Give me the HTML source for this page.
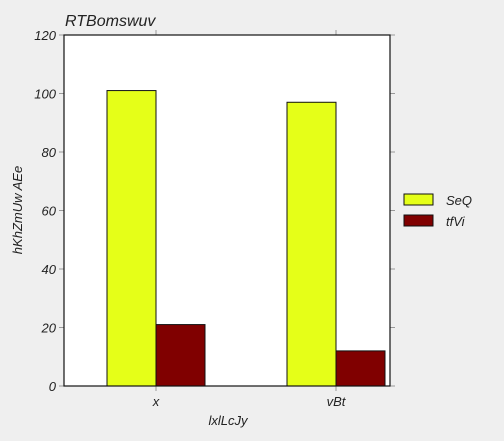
<!DOCTYPE html>
<html><head><meta charset="utf-8"><style>
html,body{margin:0;background:#efefef;overflow:hidden;width:504px;height:441px;}
svg{display:block;}
text{font-family:"Liberation Sans",sans-serif;font-style:italic;fill:#222;}
</style></head><body>
<svg id="c" width="504" height="441">
<rect width="504" height="441" fill="#efefef"/>
<text x="65" y="26" font-size="16">RTBomswuv</text>
<rect x="64" y="35" width="326" height="351" fill="#fff"/>
<g id="bars"></g>
<g id="axes"></g>
<rect x="64" y="35" width="326" height="351" fill="none" stroke="#111" stroke-width="1.2"/>
<text x="228" y="425" font-size="13" text-anchor="middle">lxlLcJy</text>
<text transform="translate(22,210) rotate(-90)" font-size="13" text-anchor="middle">hKhZmUw AEe</text>
<g>
<rect x="404" y="194" width="29" height="11" fill="#e5ff18" stroke="#111"/>
<text x="446" y="205" font-size="13">SeQ</text>
<rect x="404" y="215" width="29" height="11" fill="#800000" stroke="#111"/>
<text x="446" y="226" font-size="13">tfVi</text>
</g>
</svg>
<script>
const categories=["x","vBt"];
const seqValues=[101,97];
const tfviValues=[21,12];
const yTicks=[0,20,40,60,80,100,120];
const NS="http://www.w3.org/2000/svg";
const X=i=>156+180*i, Y=v=>386-v*351/120, BW=49;
const bars=document.getElementById('bars'), axes=document.getElementById('axes');
function mk(tag,attrs,parent){const e=document.createElementNS(NS,tag);for(const k in attrs)e.setAttribute(k,attrs[k]);parent.appendChild(e);return e;}
categories.forEach((c,i)=>{
  let r=mk('rect',{x:X(i)-BW,y:Y(seqValues[i]),width:BW,height:Y(0)-Y(seqValues[i]),fill:'#e5ff18',stroke:'#111','stroke-width':1},bars);
  
  
  r=mk('rect',{x:X(i),y:Y(tfviValues[i]),width:BW,height:Y(0)-Y(tfviValues[i]),fill:'#800000',stroke:'#111','stroke-width':1},bars);
  
  
  mk('line',{x1:X(i),x2:X(i),y1:386,y2:391,stroke:'#999'},axes);
  mk('line',{x1:X(i),x2:X(i),y1:30,y2:35,stroke:'#999'},axes);
  const t=mk('text',{x:X(i),y:406,'font-size':13,'text-anchor':'middle'},axes);
  t.textContent=c;
  
  
});
yTicks.forEach(v=>{
  mk('line',{x1:59,x2:64,y1:Y(v),y2:Y(v),stroke:'#999'},axes);
  mk('line',{x1:390,x2:395,y1:Y(v),y2:Y(v),stroke:'#999'},axes);
  const t=mk('text',{x:56,y:Y(v)+5,'font-size':13,'text-anchor':'end'},axes);
  t.textContent=v;
  
  
});
</script>
</body></html>
